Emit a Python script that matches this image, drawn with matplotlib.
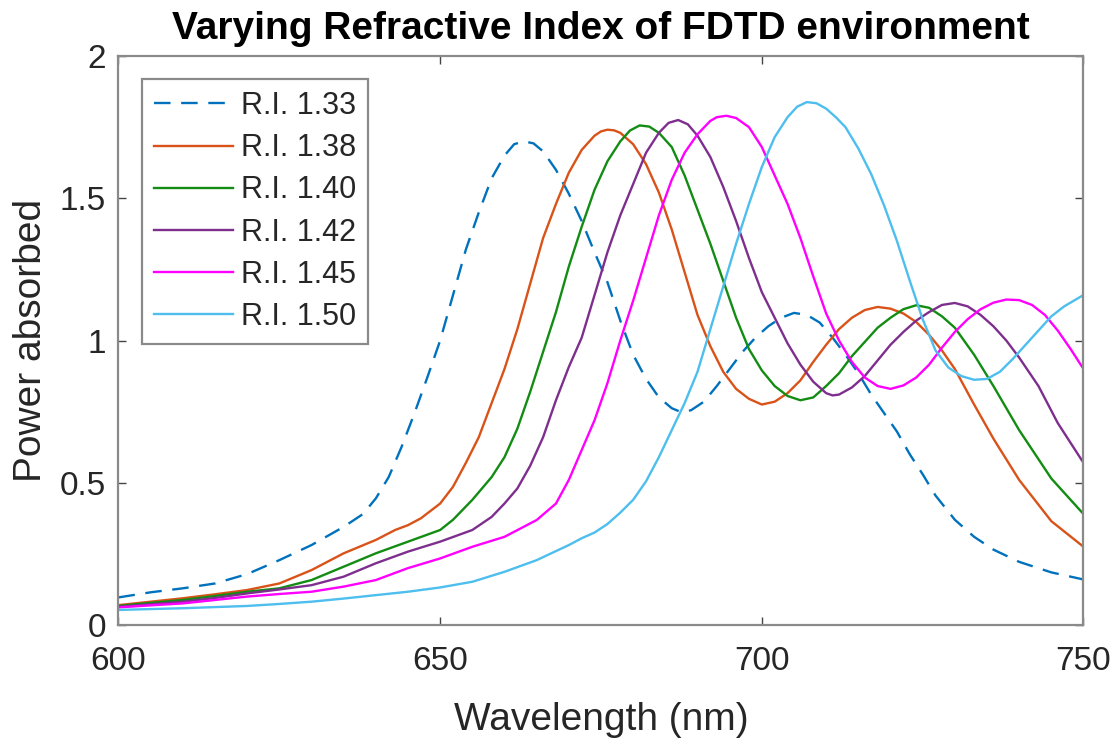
"""Absorbed power spectra for different refractive indices of the FDTD environment."""
import numpy as np
from matplotlib import pyplot as plt
import matplotlib as mpl

mpl.rcParams["font.family"] = ["Liberation Sans", "DejaVu Sans"]
mpl.rcParams["text.color"] = "262626"
mpl.rcParams["xtick.color"] = "262626"
mpl.rcParams["ytick.color"] = "262626"
mpl.rcParams["axes.labelcolor"] = "262626"

# R.I. 1.33 (dashed)
wl_133 = [600, 605, 610, 615, 620, 625, 630, 635, 638, 640, 642, 644, 646, 648, 650,
          652, 654, 656, 658, 660, 661.5, 663, 664.5, 666, 668, 670, 672, 674, 676, 678,
          680, 682, 684, 686, 687.5, 689, 691, 693, 695, 697, 699, 701, 703, 705, 707,
          709, 711, 713, 715, 717, 719, 721, 723, 725, 727, 730, 733, 736, 740, 745, 750]
pa_133 = [0.097, 0.115, 0.129, 0.146, 0.179, 0.228, 0.281, 0.345, 0.39, 0.445, 0.52,
          0.626, 0.744, 0.87, 1.0, 1.16, 1.32, 1.45, 1.57, 1.65, 1.69, 1.70, 1.693,
          1.665, 1.60, 1.516, 1.42, 1.31, 1.205, 1.07, 0.95, 0.865, 0.80, 0.762, 0.748,
          0.755, 0.785, 0.84, 0.90, 0.96, 1.01, 1.05, 1.08, 1.097, 1.09, 1.063, 1.01,
          0.95, 0.885, 0.81, 0.745, 0.68, 0.60, 0.53, 0.455, 0.37, 0.31, 0.265, 0.222,
          0.185, 0.16]

# R.I. 1.38
wl_138 = [600, 605, 610, 615, 620, 625, 630, 635, 640, 643, 645, 647, 650, 652, 654,
          656, 658, 660, 662, 664, 666, 668, 670, 672, 674, 675, 676, 677, 678, 680,
          682, 684, 686, 688, 690, 692, 694, 696, 698, 700, 702, 704, 706, 708, 710,
          712, 714, 716, 718, 720, 722, 724, 726, 728, 730, 733, 736, 740, 745, 750]
pa_138 = [0.07, 0.082, 0.094, 0.108, 0.123, 0.146, 0.193, 0.252, 0.299, 0.334, 0.351,
          0.375, 0.427, 0.486, 0.57, 0.66, 0.78, 0.90, 1.04, 1.20, 1.36, 1.48, 1.59,
          1.67, 1.72, 1.735, 1.741, 1.739, 1.73, 1.69, 1.62, 1.52, 1.39, 1.24, 1.09,
          0.98, 0.89, 0.83, 0.795, 0.775, 0.785, 0.815, 0.86, 0.925, 0.985, 1.04, 1.08,
          1.107, 1.118, 1.112, 1.095, 1.065, 1.02, 0.965, 0.90, 0.775, 0.655, 0.51,
          0.365, 0.275]

# R.I. 1.40
wl_140 = [600, 605, 610, 615, 620, 625, 630, 635, 640, 645, 650, 652, 655, 658, 660,
          662, 664, 666, 668, 670, 672, 674, 676, 678, 679.5, 681, 682.5, 684, 686, 688,
          690, 692, 694, 696, 698, 700, 702, 704, 706, 708, 710, 712, 714, 716, 718,
          720, 722, 724, 726, 728, 730, 733, 736, 740, 745, 750]
pa_140 = [0.067, 0.078, 0.088, 0.102, 0.117, 0.129, 0.158, 0.205, 0.252, 0.293, 0.334,
          0.37, 0.44, 0.52, 0.59, 0.69, 0.82, 0.96, 1.10, 1.26, 1.40, 1.53, 1.63, 1.70,
          1.738, 1.756, 1.752, 1.73, 1.68, 1.58, 1.46, 1.34, 1.21, 1.08, 0.97, 0.895,
          0.84, 0.805, 0.79, 0.80, 0.84, 0.885, 0.945, 0.995, 1.045, 1.08, 1.11, 1.124,
          1.115, 1.085, 1.045, 0.95, 0.84, 0.685, 0.515, 0.39]

# R.I. 1.42
wl_142 = [600, 605, 610, 615, 620, 625, 630, 635, 640, 645, 650, 655, 658, 660, 662,
          664, 666, 668, 670, 672, 674, 676, 678, 680, 682, 684, 685.5, 687, 688.5, 690,
          692, 694, 696, 698, 700, 702, 704, 706, 708, 710, 711, 712, 714, 716, 718,
          720, 722, 724, 726, 728, 730, 732, 734, 736, 738, 740, 743, 746, 750]
pa_142 = [0.064, 0.073, 0.082, 0.095, 0.111, 0.125, 0.14, 0.17, 0.217, 0.258, 0.293,
          0.334, 0.38, 0.427, 0.48, 0.56, 0.66, 0.79, 0.907, 1.01, 1.16, 1.31, 1.44,
          1.55, 1.66, 1.73, 1.765, 1.775, 1.76, 1.72, 1.645, 1.54, 1.42, 1.29, 1.17,
          1.08, 0.99, 0.915, 0.855, 0.815, 0.807, 0.81, 0.835, 0.875, 0.93, 0.985, 1.03,
          1.07, 1.10, 1.125, 1.132, 1.12, 1.09, 1.05, 1.0, 0.94, 0.84, 0.71, 0.57]

# R.I. 1.45
wl_145 = [600, 605, 610, 615, 620, 625, 630, 635, 640, 645, 650, 655, 660, 665, 668,
          670, 672, 674, 676, 678, 680, 682, 684, 686, 688, 690, 692, 693, 694.5, 696,
          698, 700, 702, 704, 706, 708, 710, 712, 714, 716, 718, 720, 722, 724, 726, 728,
          730, 732, 734, 736, 738, 740, 742, 744, 746, 748, 750]
pa_145 = [0.062, 0.069, 0.076, 0.088, 0.10, 0.109, 0.117, 0.135, 0.158, 0.20, 0.234,
          0.275, 0.31, 0.369, 0.427, 0.51, 0.615, 0.72, 0.85, 1.0, 1.14, 1.29, 1.44,
          1.565, 1.66, 1.725, 1.772, 1.785, 1.79, 1.782, 1.75, 1.68, 1.58, 1.48, 1.36,
          1.225, 1.095, 1.0, 0.925, 0.87, 0.84, 0.83, 0.842, 0.87, 0.915, 0.975, 1.03,
          1.075, 1.11, 1.133, 1.144, 1.142, 1.125, 1.09, 1.035, 0.97, 0.90]

# R.I. 1.50
wl_150 = [600, 605, 610, 615, 620, 625, 630, 635, 640, 645, 650, 655, 660, 665, 670,
          672, 674, 676, 678, 680, 682, 684, 686, 688, 690, 692, 694, 696, 698, 700,
          702, 704, 705.5, 707, 708.5, 710, 711.5, 713, 715, 717, 719, 721, 723, 725,
          727, 729, 731, 733, 735, 737, 739, 741, 743, 745, 747, 750]
pa_150 = [0.053, 0.056, 0.059, 0.063, 0.067, 0.074, 0.082, 0.093, 0.105, 0.117, 0.132,
          0.152, 0.187, 0.228, 0.281, 0.305, 0.325, 0.355, 0.395, 0.44, 0.505, 0.59,
          0.685, 0.78, 0.89, 1.04, 1.19, 1.34, 1.48, 1.61, 1.715, 1.785, 1.822, 1.838,
          1.834, 1.815, 1.785, 1.75, 1.675, 1.585, 1.475, 1.35, 1.21, 1.075, 0.965,
          0.905, 0.875, 0.862, 0.865, 0.89, 0.935, 0.985, 1.035, 1.085, 1.12, 1.16]

labels = ["R.I. 1.33", "R.I. 1.38", "R.I. 1.40", "R.I. 1.42", "R.I. 1.45", "R.I. 1.50"]
colors = ["#0072BD", "#D95319", "#138C13", "#7E2F8E", "#FF00FF", "#4DBEEE"]

xticks = [600, 650, 700, 750]
yticks = [0, 0.5, 1, 1.5, 2]
ytick_labels = ["0", "0.5", "1", "1.5", "2"]

if __name__ == "__main__":
    fig = plt.figure(figsize=(11.2, 7.38), dpi=100)
    ax = fig.add_axes([0.1058, 0.1531, 0.8616, 0.7710])

    series = [(wl_133, pa_133), (wl_138, pa_138), (wl_140, pa_140),
              (wl_142, pa_142), (wl_145, pa_145), (wl_150, pa_150)]
    for idx, (wl, pa) in enumerate(series):
        ls = (0, (7, 4.5)) if idx == 0 else "-"
        ax.plot(wl, pa, color=colors[idx], lw=1.7, ls=ls, label=labels[idx],
                solid_joinstyle="round")

    ax.set_xlim(600, 750)
    ax.set_ylim(0, 2)
    ax.set_xticks(xticks)
    ax.set_yticks(yticks)
    ax.set_yticklabels(ytick_labels)

    # MATLAB-like box with inward ticks on all sides
    for side in ["left", "right", "top", "bottom"]:
        ax.spines[side].set_color("#8a8a8a")
        ax.spines[side].set_linewidth(1.6)
    ax.tick_params(direction="in", length=6, width=1.0, color="#444444",
                   top=True, right=True, labelsize=24)
    ax.tick_params(axis="x", pad=15)
    ax.tick_params(axis="y", pad=9)

    ax.set_xlabel("Wavelength (nm)", fontsize=28, labelpad=18)
    ax.set_ylabel("Power absorbed", fontsize=28, labelpad=8)
    ax.set_title("Varying Refractive Index of FDTD environment",
                 fontsize=28, fontweight="bold", color="black", pad=12)

    leg = ax.legend(loc="upper left", bbox_to_anchor=(0.024, 0.96), borderaxespad=0,
                    fontsize=22, frameon=True, fancybox=False, framealpha=1,
                    handlelength=2.6, handletextpad=0.25, labelspacing=0.4,
                    borderpad=0.4)
    leg.get_frame().set_edgecolor("#8a8a8a")
    leg.get_frame().set_linewidth(1.6)

    plt.savefig("out.png", dpi=100)
    plt.close()
